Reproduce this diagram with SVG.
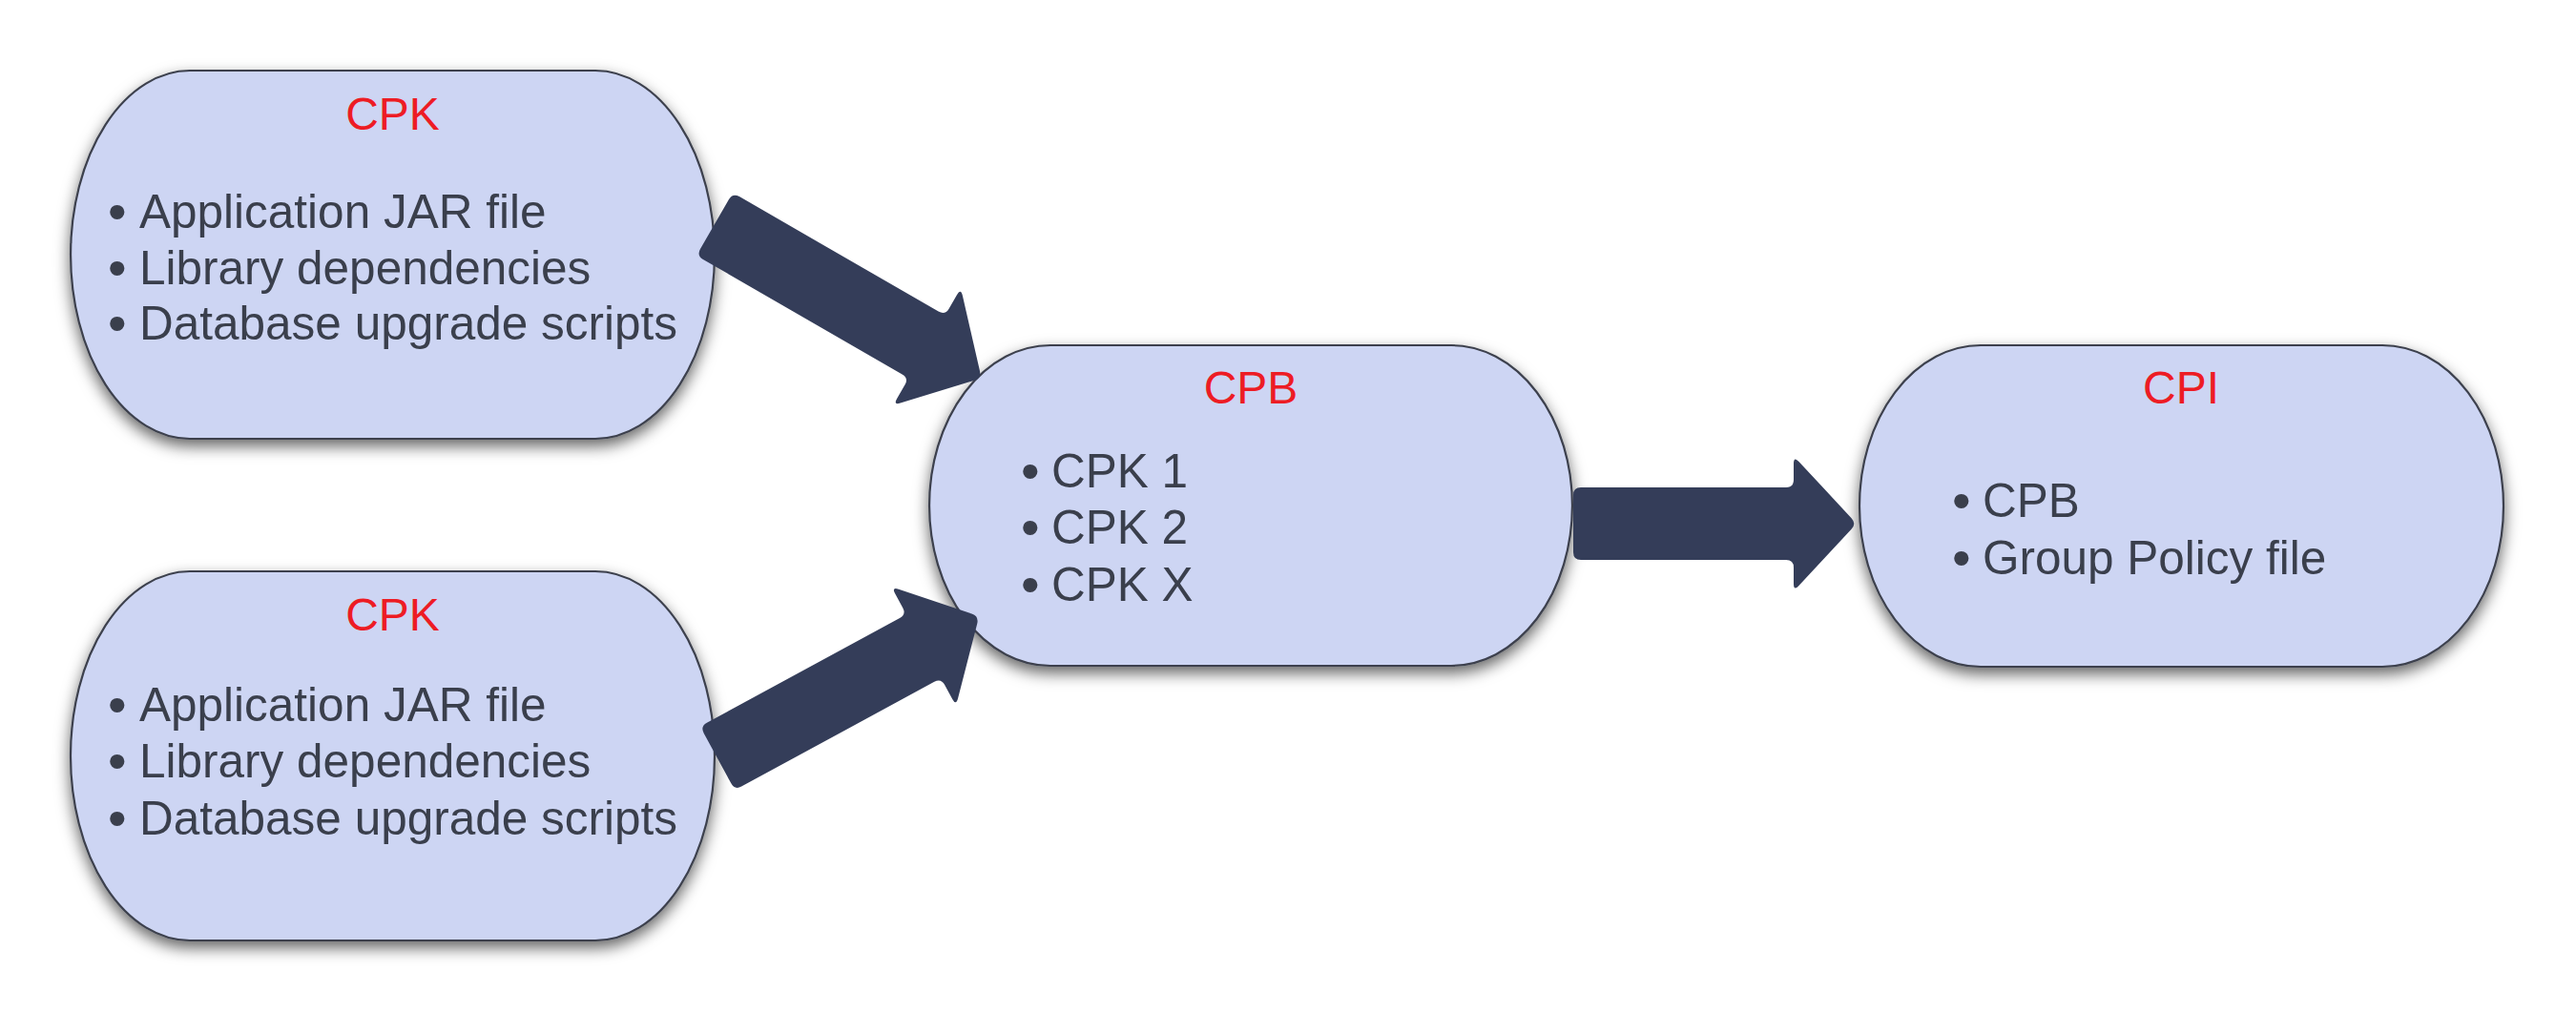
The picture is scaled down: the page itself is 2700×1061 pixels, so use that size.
<svg xmlns="http://www.w3.org/2000/svg" width="2700" height="1061" viewBox="0 0 2700 1061">
  <defs>
    <filter id="shadow" x="-10%" y="-10%" width="120%" height="130%">
      <feDropShadow dx="0" dy="7" stdDeviation="8" flood-color="#000" flood-opacity="0.6"/>
    </filter>
    <style>
      .node { fill: #cdd5f3; stroke: #3c414d; stroke-width: 2.2; filter: url(#shadow); }
      .title { font-family: "Liberation Sans", Arial, sans-serif; font-size: 48px; fill: #ed1c24; text-anchor: middle; }
      .item { font-family: "Liberation Sans", Arial, sans-serif; font-size: 49.5px; fill: #3a3f4c; }
      .b { font-size: 56px; }
      .arrow { fill: #343d59; }
    </style>
  </defs>
  <rect width="2700" height="1061" fill="#ffffff"/>

  <g id="node-cpk-top">
    <path class="node" d="M199,74 H624 A125,193 0 0 1 624,460 H199 A125,193 0 0 1 199,74 Z"/>
    <text class="title" x="411.5" y="136">CPK</text>
    <text class="item" x="113" y="239"><tspan class="b" dy="2">•</tspan><tspan x="146" dy="-2">Application JAR file</tspan></text>
    <text class="item" x="113" y="297.5"><tspan class="b" dy="2">•</tspan><tspan x="146" dy="-2">Library dependencies</tspan></text>
    <text class="item" x="113" y="356"><tspan class="b" dy="2">•</tspan><tspan x="146" dy="-2">Database upgrade scripts</tspan></text>
  </g>

  <g id="node-cpk-bottom">
    <path class="node" d="M199,599 H624 A125,193.5 0 0 1 624,986 H199 A125,193.5 0 0 1 199,599 Z"/>
    <text class="title" x="411.5" y="661">CPK</text>
    <text class="item" x="113" y="756"><tspan class="b" dy="2">•</tspan><tspan x="146" dy="-2">Application JAR file</tspan></text>
    <text class="item" x="113" y="815"><tspan class="b" dy="2">•</tspan><tspan x="146" dy="-2">Library dependencies</tspan></text>
    <text class="item" x="113" y="875"><tspan class="b" dy="2">•</tspan><tspan x="146" dy="-2">Database upgrade scripts</tspan></text>
  </g>

  <g id="node-cpb">
    <path class="node" d="M1101,362 H1521 A127,168 0 0 1 1521,698 H1101 A127,168 0 0 1 1101,362 Z"/>
    <text class="title" x="1311" y="423">CPB</text>
    <text class="item" x="1070" y="511"><tspan class="b" dy="2">•</tspan><tspan x="1102" dy="-2">CPK 1</tspan></text>
    <text class="item" x="1070" y="570"><tspan class="b" dy="2">•</tspan><tspan x="1102" dy="-2">CPK 2</tspan></text>
    <text class="item" x="1070" y="630"><tspan class="b" dy="2">•</tspan><tspan x="1102" dy="-2">CPK X</tspan></text>
  </g>

  <g id="node-cpi">
    <path class="node" d="M2076,362 H2497 A127,168.5 0 0 1 2497,699 H2076 A127,168.5 0 0 1 2076,362 Z"/>
    <text class="title" x="2286" y="423">CPI</text>
    <text class="item" x="2046" y="542"><tspan class="b" dy="2">•</tspan><tspan x="2078" dy="-2">CPB</tspan></text>
    <text class="item" x="2046" y="602"><tspan class="b" dy="2">•</tspan><tspan x="2078" dy="-2">Group Policy file</tspan></text>
  </g>

  <g id="connectors">
    <!-- top CPK -> CPB -->
    <path class="arrow" transform="translate(749,235) rotate(30)" d="M0,-30 Q0,-38 8,-38 L249,-38 Q257,-38 257,-46 L257,-63 Q257,-71 262.45,-65.1 L317.55,-5.87 Q323,0 317.55,5.87 L262.45,65.1 Q257,71 257,63 L257,46 Q257,38 249,38 L8,38 Q0,38 0,30 Z"/>
    <!-- bottom CPK -> CPB -->
    <path class="arrow" transform="translate(752,795) rotate(-28.5)" d="M0,-30 Q0,-38 8,-38 L238,-38 Q246,-38 246,-46 L246,-63 Q246,-71 251.45,-65.1 L306.55,-5.87 Q312,0 306.55,5.87 L251.45,65.1 Q246,71 246,63 L246,46 Q246,38 238,38 L8,38 Q0,38 0,30 Z"/>
    <!-- CPB -> CPI -->
    <path class="arrow" transform="translate(1649,549)" d="M0,-30 Q0,-38 8,-38 L223,-38 Q231,-38 231,-46 L231,-63 Q231,-71 236.45,-65.1 L291.55,-5.87 Q297,0 291.55,5.87 L236.45,65.1 Q231,71 231,63 L231,46 Q231,38 223,38 L8,38 Q0,38 0,30 Z"/>
  </g>
</svg>
